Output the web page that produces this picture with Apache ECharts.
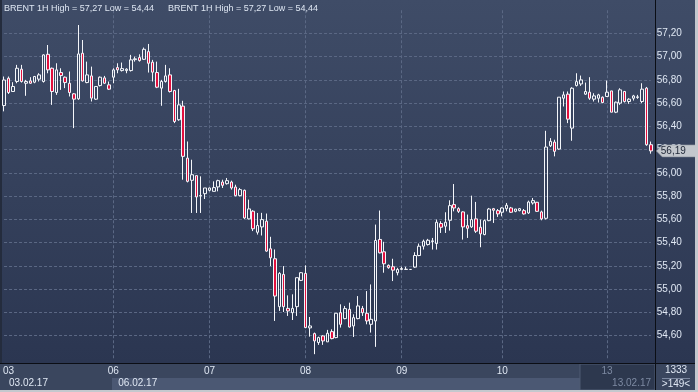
<!DOCTYPE html>
<html><head><meta charset="utf-8">
<script src="https://cdn.jsdelivr.net/npm/echarts@6/dist/echarts.min.js"></script>
<style>html,body{margin:0;padding:0;background:#2b3651}#c{width:698px;height:392px}</style>
</head><body><div id="c"></div>
<script>
// ---- data (BRENT 1H) ----
const dayLabels = ['03','06','07','08','09','10','13'];
const dayStarts = [0,25,47,69,91,114,138];
const weekLabels = ['03.02.17','06.02.17','13.02.17'];
const weekStarts = [0,25,138];
const barsInfo = '1333';

const opens = [56.58,56.815,56.701,56.787,56.893,56.772,56.792,56.781,56.807,56.787,
57.021,56.901,56.692,56.864,56.824,56.772,56.681,56.638,57.030,56.778,
56.835,56.635,56.752,56.818,56.758,56.824,56.907,56.881,56.881,56.881,
56.975,56.993,56.978,57.044,56.953,56.864,56.730,56.787,56.844,56.709,
56.458,56.575,56.128,55.937,55.977,55.803,55.822,55.851,55.842,55.880,
55.922,55.908,55.922,55.879,55.805,55.851,55.605,55.671,55.49,55.536,
55.585,55.348,55.262,54.850,55.127,54.835,54.798,54.850,55.076,55.136,
54.667,54.618,54.541,54.598,54.547,54.635,54.584,54.798,54.747,54.827,
54.684,54.747,54.835,54.793,54.698,54.727,55.428,55.322,55.205,55.193,
55.142,55.170,55.170,55.170,55.190,55.290,55.370,55.384,55.410,55.393,
55.565,55.542,55.593,55.728,55.693,55.665,55.547,55.536,55.605,55.533,
55.470,55.590,55.693,55.676,55.662,55.693,55.699,55.670,55.676,55.676,
55.656,55.742,55.748,55.665,55.61,56.234,56.266,56.206,56.643,56.678,
56.386,56.752,56.766,56.678,56.695,56.635,56.643,56.652,56.658,56.706,
56.523,56.601,56.701,56.615,56.643,56.650,56.615,56.73,56.243];
const closes = [56.80,56.692,56.744,56.901,56.787,56.787,56.772,56.830,56.844,57.016,
56.887,56.701,56.887,56.838,56.778,56.692,56.635,57.024,56.792,56.844,
56.644,56.744,56.824,56.772,56.721,56.887,56.887,56.898,56.893,56.973,
56.982,56.967,57.064,56.944,56.867,56.738,56.787,56.835,56.701,56.443,
56.586,56.143,55.928,55.985,55.794,55.806,55.871,55.871,55.874,55.934,
55.894,55.934,55.871,55.805,55.857,55.613,55.691,55.52,55.548,55.599,
55.328,55.270,54.941,55.136,54.850,54.813,54.835,55.099,55.142,54.670,
54.684,54.555,54.584,54.555,54.621,54.575,54.793,54.698,54.833,54.675,
54.755,54.856,54.798,54.727,54.741,55.419,55.313,55.219,55.185,55.164,
55.170,55.178,55.172,55.170,55.290,55.370,55.413,55.421,55.416,55.576,
55.533,55.576,55.719,55.699,55.670,55.536,55.524,55.599,55.499,55.476,
55.590,55.690,55.679,55.648,55.699,55.722,55.662,55.690,55.693,55.648,
55.750,55.762,55.670,55.605,56.223,56.272,56.186,56.652,56.672,56.463,
56.729,56.786,56.801,56.701,56.643,56.663,56.672,56.606,56.695,56.523,
56.609,56.715,56.615,56.635,56.663,56.655,56.721,56.243,56.19];
const highs = [56.83,56.83,56.781,56.930,56.930,56.801,56.824,56.835,56.858,57.021,
57.101,56.907,56.944,56.901,56.830,56.873,56.687,57.273,57.144,56.958,
56.915,56.744,56.830,56.835,56.787,56.901,56.944,56.950,56.901,57.016,
57.001,57.021,57.079,57.110,56.973,56.958,56.801,56.930,56.901,56.715,
56.724,56.621,56.271,56.114,55.977,55.971,55.871,55.874,55.928,55.942,
55.942,55.957,55.934,55.899,55.871,55.857,55.771,55.68,55.656,55.657,
55.651,55.451,55.342,55.147,55.199,54.947,54.956,55.099,55.147,55.205,
54.761,54.627,54.592,54.604,54.650,54.655,54.793,54.870,54.856,54.884,
54.784,54.941,54.856,54.984,55.041,55.556,55.677,55.408,55.213,55.262,
55.184,55.193,55.193,55.172,55.318,55.393,55.427,55.433,55.441,55.599,
55.585,55.662,55.765,55.905,55.705,55.670,55.642,55.805,55.751,55.599,
55.599,55.699,55.699,55.690,55.705,55.742,55.708,55.690,55.699,55.690,
55.762,55.785,55.751,55.676,56.363,56.300,56.286,56.652,56.701,56.701,
56.738,56.858,56.838,56.778,56.824,56.686,56.681,56.658,56.795,56.706,
56.615,56.729,56.706,56.643,56.672,56.672,56.772,56.74,56.27];
const lows = [56.53,56.68,56.70,56.772,56.778,56.664,56.767,56.772,56.787,56.778,
56.858,56.586,56.672,56.715,56.730,56.658,56.386,56.629,56.787,56.772,
56.615,56.629,56.744,56.767,56.715,56.772,56.858,56.873,56.858,56.873,
56.958,56.958,56.973,56.864,56.787,56.730,56.578,56.778,56.692,56.429,
56.449,55.942,55.919,55.656,55.656,55.656,55.776,55.842,55.842,55.842,
55.871,55.900,55.857,55.799,55.799,55.605,55.600,55.50,55.47,55.462,
55.322,55.199,54.727,54.813,54.804,54.770,54.735,54.770,55.070,54.665,
54.592,54.441,54.521,54.521,54.547,54.569,54.578,54.670,54.741,54.670,
54.589,54.741,54.770,54.698,54.627,54.504,55.308,55.142,55.176,55.070,
55.119,55.164,55.167,55.168,55.184,55.284,55.341,55.376,55.341,55.341,
55.484,55.484,55.504,55.670,55.656,55.427,55.441,55.527,55.484,55.361,
55.464,55.585,55.570,55.622,55.627,55.670,55.656,55.662,55.670,55.642,
55.648,55.728,55.665,55.593,55.60,56.223,56.143,56.200,56.572,56.429,
56.277,56.744,56.749,56.672,56.629,56.615,56.606,56.600,56.658,56.523,
56.515,56.586,56.606,56.595,56.623,56.638,56.601,56.234,56.166];

// ---- derived ----
const N = opens.length;
const categories = opens.map((_, i) => {
  let d = 0;
  for (let k = 0; k < dayStarts.length; k++) if (i >= dayStarts[k]) d = k;
  return dayLabels[d] + ' +' + (i - dayStarts[d]) + 'h';
});
const fmt = v => v.toFixed(2).replace('.', ',');
const hi = Math.max(...highs), lo = Math.min(...lows);
const headerText = 'BRENT 1H High = ' + fmt(hi) + ' Low = ' + fmt(lo);
const FONT = 'Liberation Sans';
const TXT = '#dfe7f3';

const chart = echarts.init(document.getElementById('c'), null, {renderer: 'canvas'});
const grad = new echarts.graphic.LinearGradient(0, 0, 0, 1, [
  {offset: 0, color: '#3f4c67'}, {offset: 1, color: '#2b3651'}]);

chart.setOption({
  animation: false,
  backgroundColor: '#34405a',
  grid: {left: 3.2, right: 47.2, top: 10.25, bottom: 33.05},
  xAxis: [{
    type: 'category', data: categories, boundaryGap: false,
    axisLine: {show: false}, axisTick: {show: false},
    axisLabel: {
      interval: (i) => dayStarts.includes(i),
      formatter: (v, i) => {
        const k = dayStarts.indexOf(i);
        if (k === 0) return '{l|' + dayLabels[k] + '}';
        if (k === dayStarts.length - 1) return '{g|' + dayLabels[k] + '}';
        return dayLabels[k];
      },
      color: TXT, fontSize: 10, fontFamily: FONT, margin: 7,
      rich: {
        l: {color: TXT, fontSize: 10, fontFamily: FONT, padding: [0, 0, 0, 9]},
        g: {color: '#7d8aa2', fontSize: 10, fontFamily: FONT}
      }
    },
    splitLine: {show: true, interval: (i) => dayStarts.includes(i) && i > 0,
      lineStyle: {color: '#5b6884', type: [3, 2], width: 1}}
  }, {
    type: 'category', data: categories, boundaryGap: false, position: 'bottom', offset: 15,
    axisLine: {show: false}, axisTick: {show: false}, splitLine: {show: false},
    axisLabel: {
      interval: (i) => weekStarts.includes(i),
      formatter: (v, i) => {
        const k = weekStarts.indexOf(i);
        return k === weekStarts.length - 1 ? '{g|' + weekLabels[k] + '}' : weekLabels[k];
      },
      align: 'left', padding: [0, 0, 0, 5],
      color: TXT, fontSize: 10, fontFamily: FONT, margin: 4,
      rich: {g: {color: '#7d8aa2', fontSize: 10, fontFamily: FONT}}
    }
  }],
  yAxis: {
    type: 'value', position: 'right', min: 54.4, max: 57.4, interval: 0.2,
    axisLine: {show: false}, axisTick: {show: false},
    axisLabel: {formatter: v => fmt(v), color: TXT, fontSize: 10, fontFamily: FONT,
      margin: 6, showMinLabel: false, showMaxLabel: false},
    splitLine: {show: true, showMinLine: false, showMaxLine: false,
      lineStyle: {color: '#5b6884', type: [3, 2], width: 1}}
  },
  series: [{
    type: 'candlestick', clip: false, barWidth: 3,
    data: opens.map((o, i) => [o, closes[i], lows[i], highs[i]]),
    itemStyle: {color: 'rgba(0,0,0,0)', color0: '#e2103e',
      borderColor: '#f4f6fa', borderColor0: '#f4f6fa', borderWidth: 1},
    markPoint: {
      symbol: 'path://M0,6L6,0L40,0L40,12L6,12Z',
      symbolSize: [40, 12], symbolKeepAspect: false, symbolOffset: [25.5, 0],
      itemStyle: {color: '#c3c7cd', borderColor: '#8a909a', borderWidth: 0.5},
      label: {show: true, formatter: p => fmt(p.value), color: '#1e2636',
        fontSize: 10, fontFamily: FONT, offset: [-3, 0]},
      data: [{coord: [N - 1, closes[N - 1]], value: closes[N - 1]}]
    }
  }],
  graphic: [
    {type: 'rect', z: -10, silent: true, shape: {x: 0, y: 0, width: 698, height: 363}, style: {fill: grad}},
    {type: 'rect', z: -10, silent: true, shape: {x: 0, y: 363, width: 698, height: 29}, style: {fill: '#3a465e'}},
    {type: 'rect', z: -9, silent: true, shape: {x: 112, y: 378, width: 468, height: 12}, style: {fill: '#4b5873'}},
    {type: 'rect', z: -9, silent: true, shape: {x: 580, y: 364, width: 75, height: 26}, style: {fill: '#2d384e', stroke: '#4f5b73', lineWidth: 1}},
    {type: 'line', z: 1, silent: true, shape: {x1: 655.5, y1: 0, x2: 655.5, y2: 392}, style: {stroke: '#0b0e15', lineWidth: 1}},
    {type: 'line', z: 1, silent: true, shape: {x1: 0, y1: 363.5, x2: 698, y2: 363.5}, style: {stroke: '#0b0e15', lineWidth: 1}},
    {type: 'line', z: 1, silent: true, shape: {x1: 662, y1: 378.5, x2: 690, y2: 378.5}, style: {stroke: '#7c88a0', lineWidth: 1}},
    {type: 'rect', z: 5, silent: true, shape: {x: 0, y: 0, width: 2, height: 363}, style: {fill: '#242c3d'}},
    {type: 'rect', z: 6, silent: true, shape: {x: 695, y: 0, width: 3, height: 392}, style: {fill: '#c4c8ce'}},
    {type: 'rect', z: 6, silent: true, shape: {x: 0, y: 390, width: 698, height: 2}, style: {fill: '#c4c8ce'}},
    {type: 'text', z: 10, silent: true, x: 4, y: 8.5, style: {text: headerText, fill: TXT, font: '9px "' + FONT + '"', textVerticalAlign: 'middle'}},
    {type: 'text', z: 10, silent: true, x: 168, y: 8.5, style: {text: headerText, fill: TXT, font: '9px "' + FONT + '"', textVerticalAlign: 'middle'}},
    {type: 'text', z: 10, silent: true, x: 676, y: 370.5, style: {text: barsInfo, fill: TXT, font: '10px "' + FONT + '"', textAlign: 'center', textVerticalAlign: 'middle'}},
    {type: 'text', z: 10, silent: true, x: 676, y: 384.5, style: {text: '>' + N + '<', fill: TXT, font: '10px "' + FONT + '"', textAlign: 'center', textVerticalAlign: 'middle'}}
  ]
});
</script>
</body></html>
